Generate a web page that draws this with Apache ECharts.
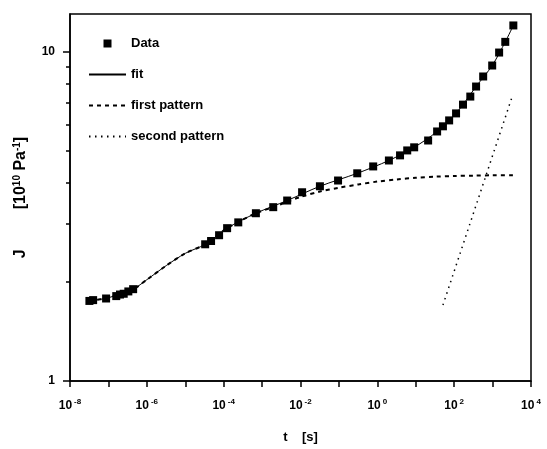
<!DOCTYPE html>
<html>
<head>
<meta charset="utf-8">
<script src="https://cdn.jsdelivr.net/npm/echarts@6/dist/echarts.min.js"></script>
<style>
    html, body { margin: 0; padding: 0; background: #fff; }
    #complianceChart { width: 547px; height: 449px; }
</style>
</head>
<body>
<div id="complianceChart"></div>
<script>
    // measured points, t in s, J in 1e-10 Pa^-1
    var dataT = [3.2e-8, 4.0e-8, 8.7e-8, 1.6e-7, 2.0e-7, 2.5e-7, 3.3e-7, 4.4e-7,
        3.3e-5, 4.7e-5, 7.6e-5, 1.23e-4, 2.4e-4, 6.9e-4, 1.95e-3, 4.5e-3, 1.1e-2, 3.2e-2, 9.5e-2,
        0.30, 0.78, 2.0, 3.9, 6.0, 9.1, 21, 36, 51, 74, 112, 170, 263, 372, 569, 977, 1480, 2140, 3470];
    var dataJ = [1.75, 1.76, 1.78, 1.81, 1.83, 1.84, 1.87, 1.90,
        2.60, 2.66, 2.77, 2.91, 3.03, 3.23, 3.37, 3.53, 3.74, 3.90, 4.06,
        4.27, 4.48, 4.67, 4.84, 5.01, 5.12, 5.37, 5.72, 5.93, 6.18, 6.49, 6.90, 7.30, 7.83, 8.40, 9.07, 9.93, 10.7, 12.0];

    // fit curve (also bridges the gap between the two data groups)
    var fitT = [3.2e-8, 1.0e-7, 4.4e-7, 1.0e-6, 3.2e-6, 1.0e-5, 3.3e-5, 1.23e-4, 6.9e-4, 4.5e-3, 3.2e-2,
        0.30, 2.0, 9.1, 36, 112, 372, 977, 2140, 3470];
    var fitJ = [1.75, 1.79, 1.90, 2.03, 2.24, 2.44, 2.60, 2.91, 3.23, 3.53, 3.90,
        4.27, 4.67, 5.12, 5.72, 6.49, 7.83, 9.07, 10.7, 12.0];

    var firstT = [3.2e-8, 1.0e-7, 4.4e-7, 1.0e-6, 3.2e-6, 1.0e-5, 3.3e-5, 1.23e-4, 6.9e-4, 1.95e-3, 4.5e-3,
        1.0e-2, 3.2e-2, 0.1, 0.32, 1, 3.2, 10, 32, 100, 320, 1000, 3550];
    var firstJ = [1.75, 1.79, 1.90, 2.03, 2.24, 2.44, 2.60, 2.91, 3.23, 3.37, 3.50,
        3.62, 3.76, 3.86, 3.95, 4.03, 4.09, 4.14, 4.17, 4.19, 4.20, 4.21, 4.21];

    var secondT = [51, 3240];
    var secondJ = [1.70, 7.3];

    var xTicks = [1e-8, 1e-7, 1e-6, 1e-5, 1e-4, 1e-3, 1e-2, 1e-1, 1, 10, 100, 1000, 1e4];
    var xLabels = [1e-8, 1e-6, 1e-4, 1e-2, 1, 100, 1e4];
    var yMinorTicks = [2, 3, 4, 5, 6, 7, 8, 9];
    var yLabels = [1, 10];

    function pairs(xs, ys) {
        return xs.map(function (x, i) { return [x, ys[i]]; });
    }

    var font = 'Liberation Sans';
    var supRich = {
        b: { fontFamily: font, fontSize: 12, fontWeight: 'bold', color: '#000', lineHeight: 15 },
        s: { fontFamily: font, fontSize: 8, fontWeight: 'bold', color: '#000', lineHeight: 15, verticalAlign: 'top', padding: [0, 0, 0, 2] }
    };
    // hides the round marker ECharts puts on line legend icons
    var noMarker = { color: 'rgba(0,0,0,0)', borderColor: 'rgba(0,0,0,0)', borderWidth: 0 };

    var chart = echarts.init(document.getElementById('complianceChart'));
    chart.setOption({
        backgroundColor: '#fff',
        animation: false,
        grid: {
            left: 70, right: 16, top: 14, bottom: 67,
            show: true, borderColor: '#000', borderWidth: 1.5
        },
        legend: {
            orient: 'vertical',
            left: 88,
            top: 37,
            padding: 0,
            itemWidth: 37,
            itemHeight: 8,
            itemGap: 18,
            textStyle: { fontFamily: font, fontSize: 13, fontWeight: 'bold', color: '#000' },
            data: [
                { name: 'Data', icon: 'path://M0,0L1,0L1,1L0,1Z' },
                { name: 'fit', itemStyle: noMarker },
                { name: 'first pattern', itemStyle: noMarker },
                { name: 'second pattern', itemStyle: noMarker }
            ]
        },
        xAxis: {
            type: 'log',
            min: 1e-8,
            max: 1e4,
            name: 't    [s]',
            nameLocation: 'middle',
            nameGap: 50,
            nameTextStyle: { fontFamily: font, fontSize: 13, fontWeight: 'bold', color: '#000' },
            axisLine: { lineStyle: { color: '#000', width: 1.5 } },
            axisTick: { customValues: xTicks, length: 6, lineStyle: { color: '#000', width: 1.5 } },
            axisLabel: {
                customValues: xLabels,
                margin: 17,
                formatter: function (v) {
                    return '{b|10}{s|' + Math.round(Math.log10(v)) + '}';
                },
                rich: supRich
            },
            splitLine: { show: false }
        },
        yAxis: [
            {
                type: 'log',
                min: 1,
                max: 13,
                position: 'left',
                axisLine: { lineStyle: { color: '#000', width: 1.5 } },
                axisTick: { customValues: yMinorTicks, length: 4, lineStyle: { color: '#000', width: 1.5 } },
                axisLabel: { show: false },
                splitLine: { show: false }
            },
            {
                type: 'log',
                min: 1,
                max: 13,
                position: 'left',
                name: 'J         [10{s|10} Pa{s|-1}]',
                nameLocation: 'middle',
                nameRotate: 90,
                nameGap: 40,
                nameTextStyle: {
                    fontFamily: font, fontSize: 16, fontWeight: 'bold', color: '#000',
                    rich: {
                        s: { fontFamily: font, fontSize: 10, fontWeight: 'bold', color: '#000', verticalAlign: 'top', lineHeight: 18 }
                    }
                },
                axisLine: { show: false },
                axisTick: { customValues: yLabels, length: 7, lineStyle: { color: '#000', width: 1.5 } },
                axisLabel: {
                    customValues: yLabels,
                    margin: 15,
                    fontFamily: font, fontSize: 12, fontWeight: 'bold', color: '#000'
                },
                splitLine: { show: false }
            }
        ],
        series: [
            {
                name: 'fit',
                type: 'line',
                data: pairs(fitT, fitJ),
                smooth: 0.3,
                symbol: 'none',
                lineStyle: { color: '#000', width: 1 },
                itemStyle: { color: '#000' },
                z: 3
            },
            {
                name: 'first pattern',
                type: 'line',
                data: pairs(firstT, firstJ),
                smooth: 0.3,
                symbol: 'none',
                lineStyle: { color: '#000', width: 2, type: [4, 4] },
                itemStyle: { color: '#000' },
                z: 2
            },
            {
                name: 'second pattern',
                type: 'line',
                data: pairs(secondT, secondJ),
                symbol: 'none',
                lineStyle: { color: '#000', width: 1.5, type: [1.5, 4.5] },
                itemStyle: { color: '#000' },
                z: 2
            },
            {
                name: 'Data',
                type: 'scatter',
                data: pairs(dataT, dataJ),
                symbol: 'rect',
                symbolSize: 8,
                itemStyle: { color: '#000', opacity: 1 },
                z: 4
            }
        ]
    });
</script>
</body>
</html>
